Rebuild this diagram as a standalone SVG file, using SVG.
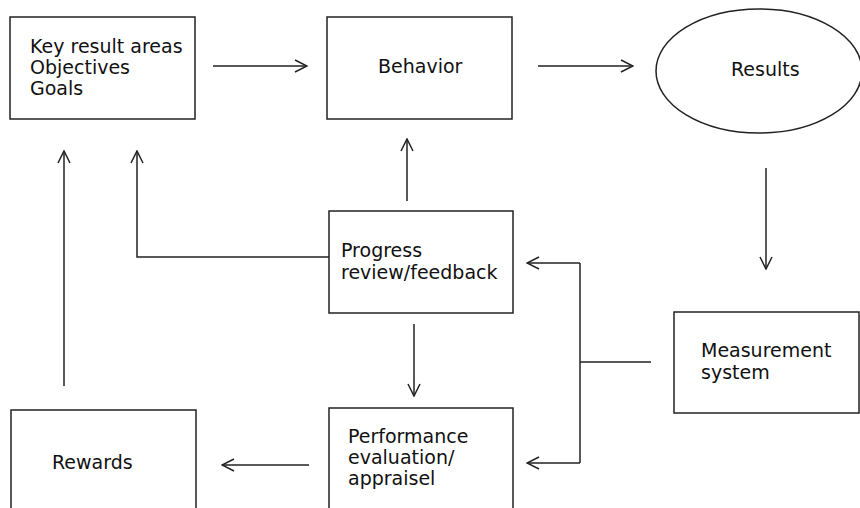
<svg xmlns="http://www.w3.org/2000/svg" width="860" height="508" viewBox="0 0 860 508">
<defs>
<style>
.box{fill:#fff;stroke:#222;stroke-width:1.5}
.lbl{font-family:"DejaVu Sans","Verdana",sans-serif;font-size:19px;fill:#111}
.con{fill:none;stroke:#222;stroke-width:1.5}
</style>
<marker id="ah" viewBox="0 0 14 14" refX="13" refY="7" markerWidth="14" markerHeight="14" markerUnits="userSpaceOnUse" orient="auto">
<path d="M1,1 L13,7 L1,13" fill="none" stroke="#222" stroke-width="1.5"/>
</marker>
</defs>
<rect width="860" height="508" fill="#fff"/>
<g id="kra">
<rect class="box" x="10" y="17" width="185" height="102"/>
<text class="lbl" x="30" y="53">Key result areas</text>
<text class="lbl" x="30" y="74">Objectives</text>
<text class="lbl" x="30" y="95">Goals</text>
</g>
<g id="behavior">
<rect class="box" x="327" y="17" width="185" height="102"/>
<text class="lbl" x="378" y="73">Behavior</text>
</g>
<g id="results">
<ellipse class="box" cx="759" cy="71" rx="103" ry="62"/>
<text class="lbl" x="731" y="76">Results</text>
</g>
<g id="progress">
<rect class="box" x="329" y="211" width="184" height="102"/>
<text class="lbl" x="341" y="257">Progress</text>
<text class="lbl" x="341" y="279">review/feedback</text>
</g>
<g id="measurement">
<rect class="box" x="674" y="312" width="185" height="101"/>
<text class="lbl" x="701" y="357">Measurement</text>
<text class="lbl" x="701" y="379">system</text>
</g>
<g id="performance">
<rect class="box" x="329" y="408" width="184" height="110"/>
<text class="lbl" x="348" y="443">Performance</text>
<text class="lbl" x="348" y="464">evaluation/</text>
<text class="lbl" x="348" y="485">appraisel</text>
</g>
<g id="rewards">
<rect class="box" x="11" y="410" width="185" height="110"/>
<text class="lbl" x="52" y="469">Rewards</text>
</g>
<g id="connectors">
<path class="con" d="M213,66 H307" marker-end="url(#ah)"/>
<path class="con" d="M538,66 H633" marker-end="url(#ah)"/>
<path class="con" d="M766,168 V269" marker-end="url(#ah)"/>
<path class="con" d="M651,362 H580"/>
<path class="con" d="M580,263 V463"/>
<path class="con" d="M580,263 H527" marker-end="url(#ah)"/>
<path class="con" d="M580,463 H527" marker-end="url(#ah)"/>
<path class="con" d="M407,201 V139" marker-end="url(#ah)"/>
<path class="con" d="M329,257 H137 V151" marker-end="url(#ah)"/>
<path class="con" d="M414,324 V396" marker-end="url(#ah)"/>
<path class="con" d="M309,465 H222" marker-end="url(#ah)"/>
<path class="con" d="M64,386 V151" marker-end="url(#ah)"/>
</g>
</svg>
